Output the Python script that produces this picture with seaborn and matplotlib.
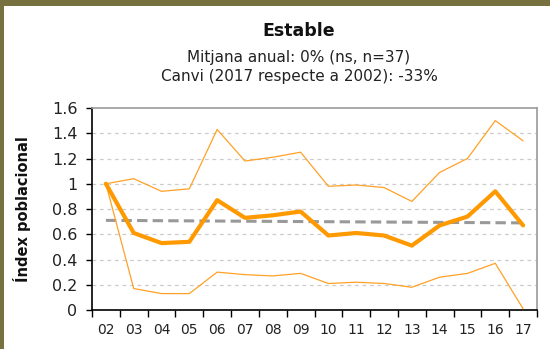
import matplotlib
matplotlib.use("Agg")
import matplotlib.pyplot as plt
from matplotlib.patches import Rectangle
from matplotlib.ticker import FixedLocator, NullFormatter
import seaborn as sns
import pandas as pd

# Population index per year (2002 = 1), with the confidence band limits
years = ["02", "03", "04", "05", "06", "07", "08", "09",
         "10", "11", "12", "13", "14", "15", "16", "17"]
index_values = [1.0, 0.61, 0.53, 0.54, 0.87, 0.73, 0.75, 0.78,
                0.59, 0.61, 0.59, 0.51, 0.67, 0.74, 0.94, 0.67]
upper_values = [1.0, 1.04, 0.94, 0.96, 1.43, 1.18, 1.21, 1.25,
                0.98, 0.99, 0.97, 0.86, 1.09, 1.20, 1.50, 1.34]
lower_values = [1.0, 0.17, 0.13, 0.13, 0.30, 0.28, 0.27, 0.29,
                0.21, 0.22, 0.21, 0.18, 0.26, 0.29, 0.37, 0.01]
trend_years = ["02", "17"]
trend_values = [0.71, 0.69]

y_ticks = [0, 0.2, 0.4, 0.6, 0.8, 1.0, 1.2, 1.4, 1.6]
y_tick_labels = ["0", "0.2", "0.4", "0.6", "0.8", "1", "1.2", "1.4", "1.6"]

title = "Estable"
subtitle = "Mitjana anual: 0% (ns, n=37)\nCanvi (2017 respecte a 2002): -33%"
y_label = "Índex poblacional"

df = pd.DataFrame({
    "pos": range(len(years)),
    "index": index_values,
    "upper": upper_values,
    "lower": lower_values,
})
trend_df = pd.DataFrame({
    "pos": [years.index(y) for y in trend_years],
    "trend": trend_values,
})

sns.set_theme(style="white")
plt.rcParams["font.family"] = ["DejaVu Sans"]

W, H = 550, 349
fig = plt.figure(figsize=(W / 100, H / 100), dpi=100, facecolor="#77703f")
fig.patches.append(Rectangle((4 / W, 0), 1, (H - 6) / H, transform=fig.transFigure,
                             facecolor="white", edgecolor="none", zorder=-5))

ax = fig.add_axes([92 / W, (H - 310) / H, (537 - 92) / W, (310 - 108) / H])
ax.set_facecolor("white")

for yv in y_ticks[1:-1]:
    ax.axhline(yv, color="#cccccc", lw=0.9, ls=(0, (3, 3)), zorder=1)

sns.lineplot(data=trend_df, x="pos", y="trend", ax=ax, color="#999999",
             lw=2.2, zorder=2)
ax.lines[-1].set_dashes((3.4, 1.7))
sns.lineplot(data=df, x="pos", y="upper", ax=ax, color="#ffa126", lw=0.9, zorder=3)
sns.lineplot(data=df, x="pos", y="lower", ax=ax, color="#ffa126", lw=0.9, zorder=3)
sns.lineplot(data=df, x="pos", y="index", ax=ax, color="#ff9900", lw=3.0, zorder=4)

ax.set_xlim(-0.5, len(years) - 0.5)
ax.set_ylim(0, 1.6)

ax.set_xticks(range(len(years)))
ax.set_xticklabels(years)
ax.xaxis.set_minor_locator(FixedLocator([i - 0.5 for i in range(len(years) + 1)]))
ax.xaxis.set_minor_formatter(NullFormatter())
ax.tick_params(axis="x", which="major", length=0, pad=9, labelsize=10, colors="#222222")
ax.tick_params(axis="x", which="minor", length=5, width=1, color="black", direction="out",
               bottom=True)

ax.set_yticks(y_ticks)
ax.set_yticklabels(y_tick_labels)
ax.tick_params(axis="y", length=4.5, width=1, color="black", direction="out", left=True,
               pad=6, labelsize=11.5, labelcolor="#222222")

ax.set_xlabel("")
ax.set_ylabel(y_label, fontsize=10.5, fontweight="bold", color="#111111")
ax.yaxis.set_label_coords(-0.138, 0.5)

for side in ["left", "bottom"]:
    ax.spines[side].set_color("black")
    ax.spines[side].set_linewidth(1.2)
for side in ["top", "right"]:
    ax.spines[side].set_color("#9a9a9a")
    ax.spines[side].set_linewidth(1.2)

fig.text(299 / W, 1 - 31 / H, title, ha="center", va="center", fontsize=12.5,
         fontweight="bold", color="#111111")
fig.text(299 / W, 1 - 67 / H, subtitle, ha="center", va="center", fontsize=11,
         color="#222222", linespacing=1.3)

fig.savefig("out.png", dpi=100, facecolor=fig.get_facecolor())
